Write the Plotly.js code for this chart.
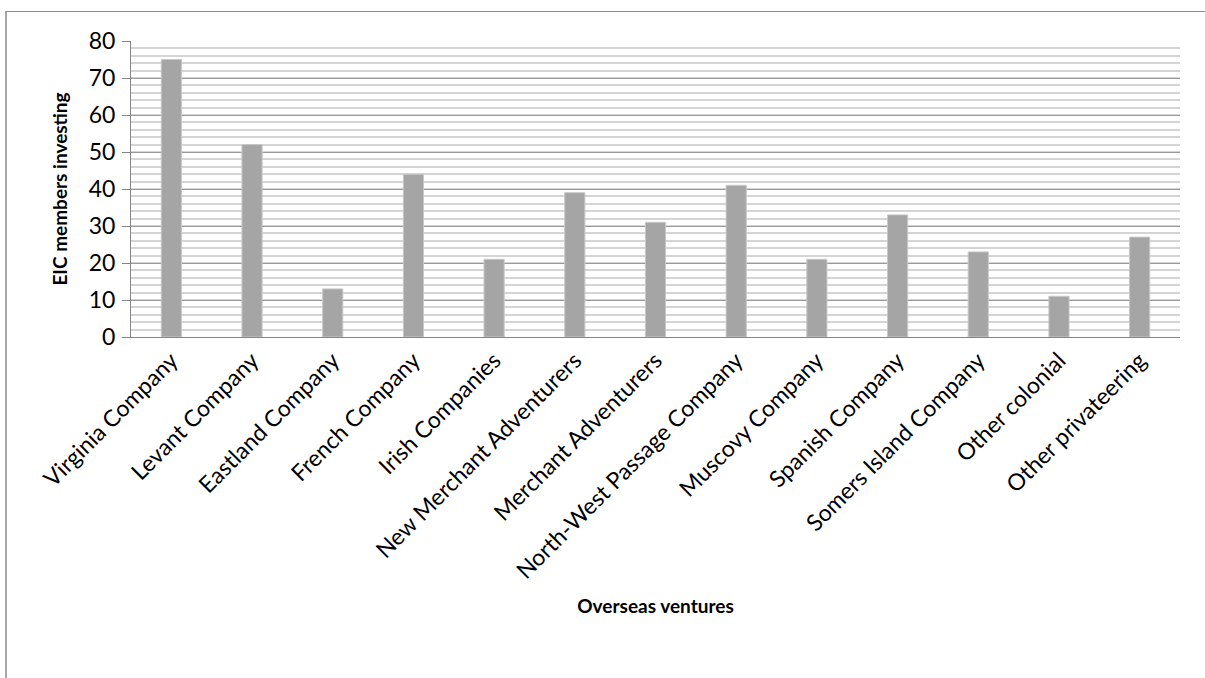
<!DOCTYPE html>
<html>
<head>
<meta charset="utf-8">
<script src="https://cdn.plot.ly/plotly-3.0.1.min.js"></script>
<style>
  html, body { margin: 0; padding: 0; background: #fff; }
  #wrap { position: relative; width: 1205px; height: 678px; overflow: hidden; }
  #frame { position: absolute; left: 5px; top: 11px; width: 1220px; height: 700px; border-top: 1px solid #8c8c8c; border-left: 2px solid #a6a6a6; box-sizing: border-box; pointer-events: none; }
  #chart { position: absolute; left: 0; top: 0; width: 1205px; height: 678px; }
</style>
</head>
<body>
<div id="wrap">
  <div id="chart"></div>
  <div id="frame"></div>
</div>
<script>
const categories = [
  "Virginia Company", "Levant Company", "Eastland Company", "French Company",
  "Irish Companies", "New Merchant Adventurers", "Merchant Adventurers",
  "North-West Passage Company", "Muscovy Company", "Spanish Company",
  "Somers Island Company", "Other colonial", "Other privateering"
];
const members = [75, 52, 13, 44, 21, 39, 31, 41, 21, 33, 23, 11, 27];
const yTickValues = [0, 10, 20, 30, 40, 50, 60, 70, 80];
const xTitle = "Overseas ventures";
const yTitle = "EIC members investing";

const fontFamily = "Lato, 'Open Sans', 'Noto Sans', sans-serif";

const trace = {
  type: "bar",
  x: categories,
  y: members,
  marker: { color: "#a5a5a5", line: { color: "#c8c8c8", width: 1 } },
  hoverinfo: "x+y"
};

const layout = {
  width: 1205,
  height: 678,
  margin: { l: 131, r: 25, t: 41, b: 341 },
  paper_bgcolor: "#ffffff",
  plot_bgcolor: "#ffffff",
  showlegend: false,
  bargap: 0.75,
  font: { family: fontFamily, color: "#000000" },
  xaxis: {
    type: "category",
    tickangle: -45,
    tickfont: { family: fontFamily, size: 23, color: "#000" },
    showgrid: false,
    showline: true,
    linecolor: "#868686",
    linewidth: 1,
    ticks: "",
    automargin: false,
    title: { text: xTitle, font: { family: fontFamily, size: 19, color: "#000", weight: "bold" }, standoff: 16 }
  },
  yaxis: {
    range: [0, 80],
    tickvals: yTickValues,
    ticktext: yTickValues.map(String),
    tickfont: { family: fontFamily, size: 23, color: "#000" },
    showline: true,
    linecolor: "#868686",
    linewidth: 1,
    ticks: "outside",
    ticklen: 8,
    tickcolor: "#868686",
    ticklabelstandoff: 2,
    showgrid: true,
    gridcolor: "#9a9a9a",
    gridwidth: 1,
    minor: { dtick: 2, showgrid: true, gridcolor: "#d4d4d4", gridwidth: 1.5, ticks: "" },
    zeroline: false,
    automargin: false,
    title: { text: yTitle, font: { family: fontFamily, size: 19, color: "#000", weight: "bold" }, standoff: 16 }
  }
};

Plotly.newPlot("chart", [trace], layout, { displayModeBar: false, staticPlot: false });
</script>
</body>
</html>
